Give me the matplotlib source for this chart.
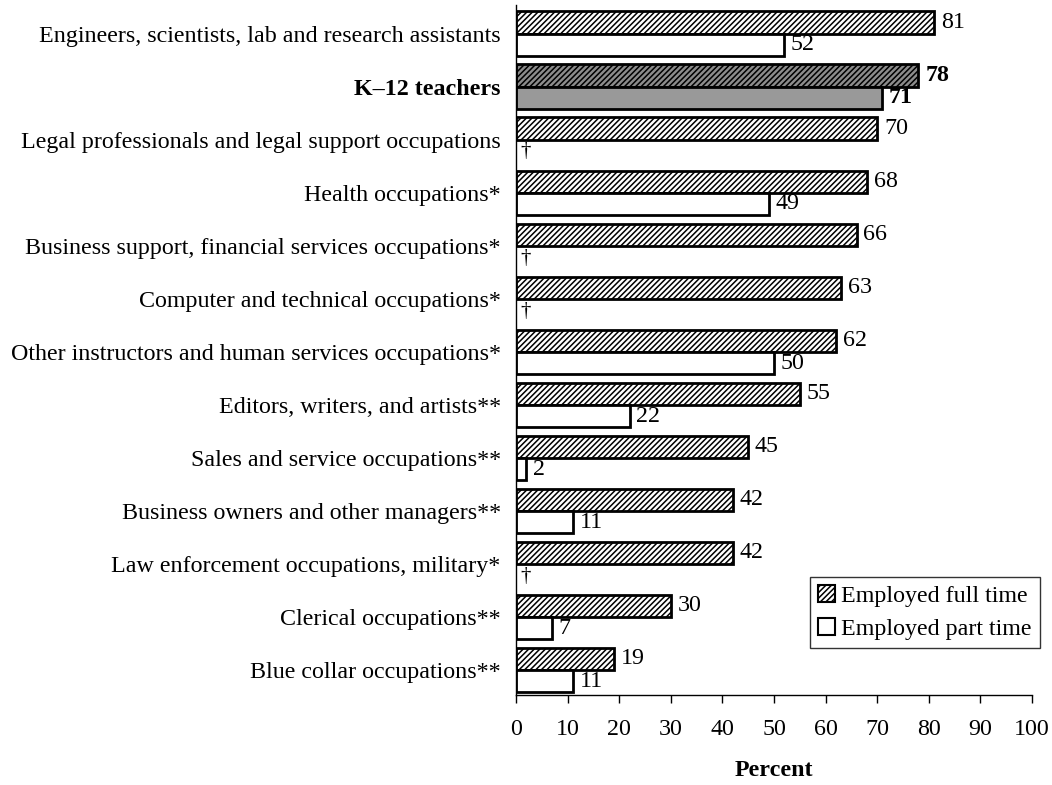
import matplotlib
matplotlib.use("Agg")
import matplotlib.pyplot as plt
import numpy as np
from matplotlib.patches import Patch

categories = [
    "Engineers, scientists, lab and research assistants",
    "K\u201312 teachers",
    "Legal professionals and legal support occupations",
    "Health occupations*",
    "Business support, financial services occupations*",
    "Computer and technical occupations*",
    "Other instructors and human services occupations*",
    "Editors, writers, and artists**",
    "Sales and service occupations**",
    "Business owners and other managers**",
    "Law enforcement occupations, military*",
    "Clerical occupations**",
    "Blue collar occupations**",
]
full_time = [81, 78, 70, 68, 66, 63, 62, 55, 45, 42, 42, 30, 19]
part_time = [52, 71, None, 49, None, None, 50, 22, 2, 11, None, 7, 11]
highlight = "K\u201312 teachers"
xticks = [0, 10, 20, 30, 40, 50, 60, 70, 80, 90, 100]

plt.rcParams['font.family'] = ['Liberation Serif', 'DejaVu Serif']
plt.rcParams['hatch.linewidth'] = 1.1
FS = 17.3

fig = plt.figure(figsize=(10.52, 7.85), dpi=100)
ax = fig.add_axes([0.4905, 0.1146, 0.4905, 0.879])

bh = 0.42
y = np.arange(len(categories))
for i, cat in enumerate(categories):
    hl = cat == highlight
    fv = full_time[i]
    ax.barh(i - bh / 2, fv, height=bh, color='#8c8c8c' if hl else 'white',
            edgecolor='black', hatch='//////', linewidth=2)
    ax.text(fv + 1.3, i - bh / 2, str(fv), va='center', ha='left', fontsize=FS,
            fontweight='bold' if hl else 'normal')
    pv = part_time[i]
    if pv is None:
        ax.text(1.9, i + bh / 2 + 0.02, "\u2020", va='center', ha='center', fontsize=15)
    else:
        ax.barh(i + bh / 2, pv, height=bh, color='#999999' if hl else 'white',
                edgecolor='black', linewidth=2)
        ax.text(pv + 1.3, i + bh / 2, str(pv), va='center', ha='left', fontsize=FS,
                fontweight='bold' if hl else 'normal')

ax.set_ylim(len(categories) - 0.53, -0.54)
ax.set_xlim(0, 100)
ax.set_yticks(y)
ax.set_yticklabels(categories, fontsize=FS)
for lbl in ax.get_yticklabels():
    if lbl.get_text() == highlight:
        lbl.set_fontweight('bold')
ax.tick_params(axis='y', length=0, pad=11)
ax.set_xticks(xticks)
ax.set_xticklabels([str(t) for t in xticks], fontsize=FS)
ax.tick_params(axis='x', direction='out', length=5.5, width=1, pad=12)
ax.spines['top'].set_visible(False)
ax.spines['right'].set_visible(False)
ax.spines['left'].set_linewidth(1)
ax.spines['bottom'].set_linewidth(1)
ax.set_xlabel("Percent", fontsize=FS, fontweight='bold', labelpad=14)

handles = [Patch(facecolor='white', edgecolor='black', hatch='//////', linewidth=1.5, label='Employed full time'),
           Patch(facecolor='white', edgecolor='black', linewidth=1.5, label='Employed part time')]
leg = ax.legend(handles=handles, loc='lower right', bbox_to_anchor=(1.0155, 0.068), fontsize=FS,
                frameon=True, fancybox=False, edgecolor='black', handlelength=0.7, handleheight=0.7,
                handletextpad=0.25, borderpad=0.35, labelspacing=0.45, borderaxespad=0)
leg.get_frame().set_linewidth(1)

fig.savefig("out.png", dpi=100)
